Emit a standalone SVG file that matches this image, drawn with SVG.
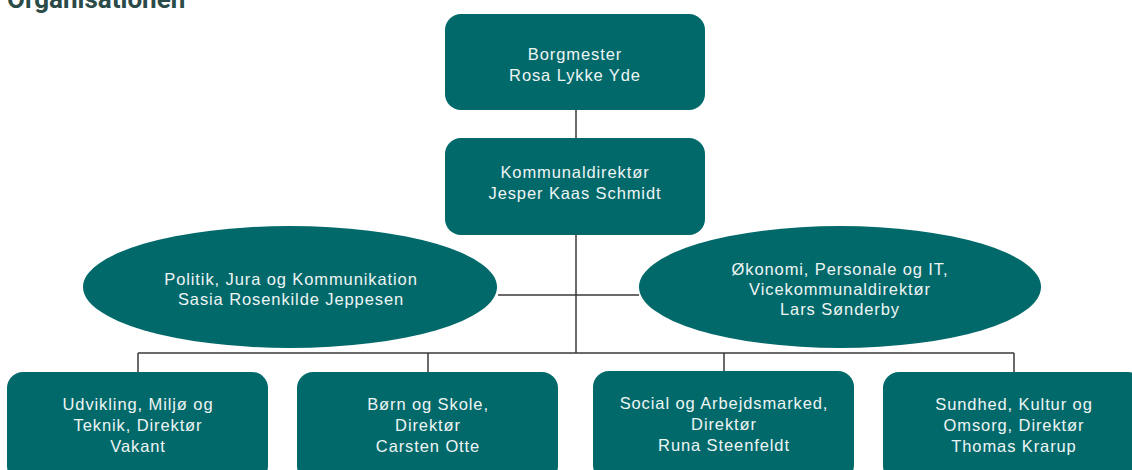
<svg xmlns="http://www.w3.org/2000/svg" width="1132" height="470" viewBox="0 0 1132 470">
<style>
.box{fill:#02696a;}
.t{font-family:"Liberation Sans",Arial,sans-serif;font-size:16.5px;fill:#eef5f5;text-anchor:middle;letter-spacing:0.9px;}
.c{stroke:#3a3a3a;stroke-width:1.5;fill:none;}
.title{font-family:Roboto,"Liberation Sans",sans-serif;font-weight:bold;font-size:26px;fill:#2a4b48;}
</style>
<rect width="1132" height="470" fill="#ffffff"/>
<text class="title" x="7" y="8">Organisationen</text>
<g id="connectors">
<path class="c" d="M576 110 V138 M576 235 V353 M498 295 H639 M138 353 H1014 M138 353 V372 M428 353 V372 M724 353 V372 M1014 353 V372"/>
</g>
<g id="borgmester">
<rect class="box" x="445" y="14" width="260" height="96" rx="16"/>
<text class="t" x="575" y="60">Borgmester</text>
<text class="t" x="575" y="81">Rosa Lykke Yde</text>
</g>
<g id="kommunaldirektor">
<rect class="box" x="445" y="138" width="260" height="97" rx="16"/>
<text class="t" x="575" y="178">Kommunaldirektør</text>
<text class="t" x="575" y="199">Jesper Kaas Schmidt</text>
</g>
<g id="politik">
<ellipse class="box" cx="290" cy="287" rx="207" ry="61"/>
<text class="t" x="291" y="285">Politik, Jura og Kommunikation</text>
<text class="t" x="291" y="305">Sasia Rosenkilde Jeppesen</text>
</g>
<g id="okonomi">
<ellipse class="box" cx="840" cy="287" rx="201" ry="61"/>
<text class="t" x="840" y="275">Økonomi, Personale og IT,</text>
<text class="t" x="840" y="295">Vicekommunaldirektør</text>
<text class="t" x="840" y="315">Lars Sønderby</text>
</g>
<g id="udvikling">
<rect class="box" x="7" y="372" width="261" height="110" rx="16"/>
<text class="t" x="138" y="410">Udvikling, Miljø og</text>
<text class="t" x="138" y="431">Teknik, Direktør</text>
<text class="t" x="138" y="452">Vakant</text>
</g>
<g id="born">
<rect class="box" x="297" y="372" width="261" height="110" rx="16"/>
<text class="t" x="428" y="410">Børn og Skole,</text>
<text class="t" x="428" y="431">Direktør</text>
<text class="t" x="428" y="452">Carsten Otte</text>
</g>
<g id="social">
<rect class="box" x="593" y="371" width="261" height="110" rx="16"/>
<text class="t" x="724" y="409">Social og Arbejdsmarked,</text>
<text class="t" x="724" y="430">Direktør</text>
<text class="t" x="724" y="451">Runa Steenfeldt</text>
</g>
<g id="sundhed">
<rect class="box" x="883" y="372" width="261" height="110" rx="16"/>
<text class="t" x="1014" y="410">Sundhed, Kultur og</text>
<text class="t" x="1014" y="431">Omsorg, Direktør</text>
<text class="t" x="1014" y="452">Thomas Krarup</text>
</g>
</svg>
